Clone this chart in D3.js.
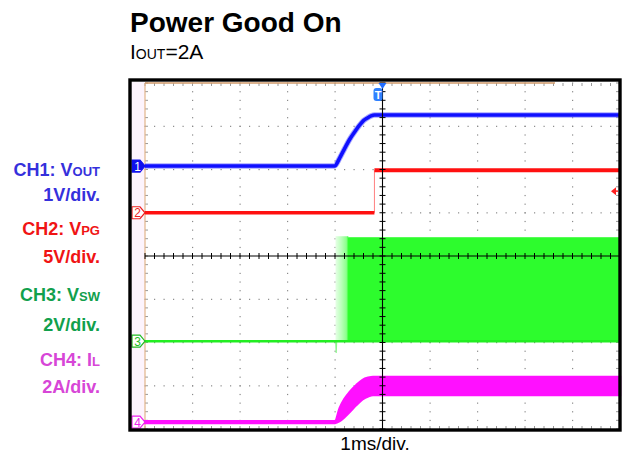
<!DOCTYPE html>
<html><head><meta charset="utf-8">
<script src="https://cdn.jsdelivr.net/npm/d3@7"></script>
<style>
html,body{margin:0;padding:0;background:#fff;}
svg{display:block;font-family:"Liberation Sans",Arial,sans-serif;}
</style></head>
<body><svg id="c" width="630" height="457"></svg>
<script>
// ---- data (time in ms, 1 ms/div; values in channel units) ----
const timeDomain = [-5, 5];
const divDomain = [-4, 4];
const channelNames = ["CH1: V", "CH2: V", "CH3: V", "CH4: I"];
const channelSubs = ["OUT", "PG", "SW", "L"];
const channelScales = ["1V/div.", "5V/div.", "2V/div.", "2A/div."];
const channelUnitsPerDiv = [1, 5, 2, 2];
const channelOffsetDiv = [2.08, 1.0, -1.97, -3.84];

const voutT = [-5, -1.01, -0.90, -0.79, -0.69, -0.58, -0.48, -0.40, -0.32, -0.24, -0.17, 0, 5];
const voutV = [0, 0, 0.19, 0.42, 0.62, 0.80, 0.95, 1.05, 1.11, 1.16, 1.18, 1.18, 1.18];

const vpgT = [-5, -0.17, 5];
const vpgV = [0, 4.92, 4.92];

const vswLineT = [-5, -0.985, -0.975, -0.965, 5];
const vswLineV = [0, 0, -0.55, 0, 0];
const vswBandT = [-0.99, -0.72, 5];
const vswBandHigh = [4.85, 4.8, 4.8];

const ilT = [-5, -1.0, -0.9, -0.8, -0.69, -0.55, -0.42, -0.3, -0.2, 0, 5];
const ilMean = [0, 0, 0.35, 0.65, 0.93, 1.25, 1.50, 1.62, 1.67, 1.67, 1.67];
const ilRipple = [0.04, 0.04, 0.3, 0.42, 0.46, 0.46, 0.45, 0.43, 0.42, 0.42, 0.42];

const trigLevelV = 2.5; // CH2 trigger level (V)
const titleText = "Power Good On";
const subtitleParts = ["I", "OUT", "=2A"];
const xAxisText = "1ms/div.";

// ---- drawing ----
const svg = d3.select("#c");
const G = {l:145, r:620, t:83, b:429};
const x = d3.scaleLinear().domain(timeDomain).range([G.l, G.r]);
const yd = d3.scaleLinear().domain(divDomain).range([G.b, G.t]);
const yCh = (ch, v) => yd(channelOffsetDiv[ch] + v / channelUnitsPerDiv[ch]);

const traceColors = ["#1010ff", "#ff1010", "#33ff33", "#ff10ff"];
const labelColors = ["#3530dc", "#f01414", "#11a04c", "#d746d7"];

// title
svg.append("text").attr("x", 130).attr("y", 32).attr("font-size", 28).attr("font-weight", "bold")
  .attr("fill", "#000").text(titleText);
const st = svg.append("text").attr("x", 130).attr("y", 59).attr("font-size", 21).attr("fill", "#000");
st.append("tspan").text(subtitleParts[0]);
st.append("tspan").attr("font-size", 14).text(subtitleParts[1]);
st.append("tspan").text(subtitleParts[2]);

// left pale strip
svg.append("rect").attr("x", 131).attr("y", 82).attr("width", G.l - 131).attr("height", G.b - 82).attr("fill", "#fdf4fd");

// grid dots
const majX = d3.range(-4, 5).filter(d => d !== 0);
const majY = d3.range(-3, 4).filter(d => d !== 0);
const minX = d3.range(-5, 5.001, 0.2);
const minY = d3.range(-4, 4.001, 0.2);
const gGrid = svg.append("g");
majX.forEach(t => {
  gGrid.selectAll(null).data(minY).enter().append("rect")
    .attr("x", x(t) - 0.5).attr("y", d => yd(d) - 0.5).attr("width", 1.2).attr("height", 1.2).attr("fill", "#8a8a8a");
});
majY.forEach(dv => {
  gGrid.selectAll(null).data(minX).enter().append("rect")
    .attr("x", d => x(d) - 0.5).attr("y", yd(dv) - 0.5).attr("width", 1.2).attr("height", 1.2).attr("fill", "#8a8a8a");
});
// edge ticks
gGrid.selectAll(null).data(minX).enter().append("line")
  .attr("x1", d => x(d)).attr("x2", d => x(d)).attr("y1", G.t).attr("y2", G.t + 3).attr("stroke", "#999").attr("stroke-width", 1);
gGrid.selectAll(null).data(minX).enter().append("line")
  .attr("x1", d => x(d)).attr("x2", d => x(d)).attr("y1", G.b - 3).attr("y2", G.b).attr("stroke", "#999").attr("stroke-width", 1);
gGrid.selectAll(null).data(minY).enter().append("line")
  .attr("x1", G.l).attr("x2", G.l + 3).attr("y1", d => yd(d)).attr("y2", d => yd(d)).attr("stroke", "#999").attr("stroke-width", 1);
gGrid.selectAll(null).data(minY).enter().append("line")
  .attr("x1", G.r - 4).attr("x2", G.r).attr("y1", d => yd(d)).attr("y2", d => yd(d)).attr("stroke", "#999").attr("stroke-width", 1);

// edges (tan)
svg.append("line").attr("x1", G.l).attr("x2", G.l).attr("y1", G.t).attr("y2", G.b).attr("stroke", "#e2b48a").attr("stroke-width", 1.2);
svg.append("line").attr("x1", G.l).attr("x2", 555).attr("y1", G.t).attr("y2", G.t).attr("stroke", "#d09a6a").attr("stroke-width", 1.4);

// ---- traces ----
// CH3 switching band
const gradId = "swfade";
const grad = svg.append("defs").append("linearGradient").attr("id", gradId)
  .attr("gradientUnits", "userSpaceOnUse").attr("x1", x(vswBandT[0])).attr("x2", x(vswBandT[1])).attr("y1", 0).attr("y2", 0);
grad.append("stop").attr("offset", 0).attr("stop-color", "#e6ffe6");
grad.append("stop").attr("offset", 0.5).attr("stop-color", "#b6ffb6");
grad.append("stop").attr("offset", 0.85).attr("stop-color", "#8cff8c");
grad.append("stop").attr("offset", 1).attr("stop-color", "#33ff33");
const bandData = vswBandT.map((t, i) => ({t, hi: vswBandHigh[i]}));
svg.append("path").datum(bandData)
  .attr("d", d3.area().curve(d3.curveStepAfter).x(d => x(d.t)).y0(yCh(2, 0)).y1(d => yCh(2, d.hi)))
  .attr("fill", `url(#${gradId})`);
svg.append("rect").attr("x", x(vswBandT[1])).attr("y", yCh(2, vswBandHigh[1]))
  .attr("width", x(timeDomain[1]) - x(vswBandT[1])).attr("height", yCh(2, 0) - yCh(2, vswBandHigh[1]))
  .attr("fill", "#2dfc2d");
svg.append("path").datum(vswLineT.map((t, i) => ({t, v: vswLineV[i]})))
  .attr("d", d3.line().x(d => x(d.t)).y(d => yCh(2, d.v)))
  .attr("fill", "none").attr("stroke", "#8cf58c").attr("stroke-width", 1.2);
svg.append("path").datum([{t: timeDomain[0]}, {t: timeDomain[1]}])
  .attr("d", d3.line().x(d => x(d.t)).y(yCh(2, 0)))
  .attr("fill", "none").attr("stroke", "#22ee22").attr("stroke-width", 2.6);

// CH4 inductor current band
const ilData = ilT.map((t, i) => ({t, m: ilMean[i], r: ilRipple[i]}));
svg.append("path").datum(ilData)
  .attr("d", d3.area().curve(d3.curveMonotoneX).x(d => x(d.t)).y0(d => yCh(3, d.m - d.r)).y1(d => yCh(3, d.m + d.r)))
  .attr("fill", traceColors[3]).attr("stroke", traceColors[3]).attr("stroke-width", 2.4);

// CH2 PG
const pgData = vpgT.map((t, i) => ({t, v: vpgV[i]}));
svg.append("line").attr("x1", x(vpgT[1])).attr("x2", x(vpgT[1])).attr("y1", yCh(1, 0)).attr("y2", yCh(1, vpgV[1]))
  .attr("stroke", "#ff8080").attr("stroke-width", 1);
svg.append("path").datum(pgData.slice(0, 2)).attr("d", d3.line().x(d => x(d.t)).y(yCh(1, 0)))
  .attr("fill", "none").attr("stroke", traceColors[1]).attr("stroke-width", 3.6);
svg.append("path").datum(pgData.slice(1)).attr("d", d3.line().x(d => x(d.t)).y(d => yCh(1, d.v)))
  .attr("fill", "none").attr("stroke", traceColors[1]).attr("stroke-width", 4);

// CH1 Vout
const voData = voutT.map((t, i) => ({t, v: voutV[i]}));
svg.append("path").datum(voData)
  .attr("d", d3.line().curve(d3.curveMonotoneX).x(d => x(d.t)).y(d => yCh(0, d.v)))
  .attr("fill", "none").attr("stroke", "#6b6bff").attr("stroke-width", 5.5).attr("stroke-opacity", 0.6);
svg.append("path").datum(voData)
  .attr("d", d3.line().curve(d3.curveMonotoneX).x(d => x(d.t)).y(d => yCh(0, d.v)))
  .attr("fill", "none").attr("stroke", traceColors[0]).attr("stroke-width", 3.6);

// center axes with ticks
const gAx = svg.append("g");
gAx.append("line").attr("x1", x(0)).attr("x2", x(0)).attr("y1", G.t).attr("y2", G.b).attr("stroke", "#000").attr("stroke-width", 1.1);
gAx.append("line").attr("x1", G.l).attr("x2", G.r).attr("y1", yd(0)).attr("y2", yd(0)).attr("stroke", "#000").attr("stroke-width", 1.1);
gAx.selectAll(null).data(minX).enter().append("line")
  .attr("x1", d => x(d)).attr("x2", d => x(d)).attr("y1", yd(0) - 3).attr("y2", yd(0) + 3).attr("stroke", "#000").attr("stroke-width", 1);
gAx.selectAll(null).data(minY).enter().append("line")
  .attr("x1", x(0) - 3).attr("x2", x(0) + 3).attr("y1", d => yd(d)).attr("y2", d => yd(d)).attr("stroke", "#000").attr("stroke-width", 1);

// trigger markers
svg.append("path").attr("d", `M${x(0) - 4},${G.t} L${x(0) + 4},${G.t} L${x(0)},${G.t + 6} Z`).attr("fill", "#1f6cff");
svg.append("rect").attr("x", x(0) - 9).attr("y", 88).attr("width", 9).attr("height", 13).attr("rx", 3).attr("fill", "#2f80ff");
svg.append("text").attr("x", x(0) - 4.5).attr("y", 99).attr("text-anchor", "middle").attr("font-size", 11).attr("font-weight", "bold").attr("fill", "#fff").text("T");
const ty = yCh(1, trigLevelV);
svg.append("path").attr("d", `M${G.r - 9},${ty} L${G.r - 4},${ty - 4} L${G.r - 4},${ty + 4} Z`).attr("fill", "#ff2020");
svg.append("line").attr("x1", G.r - 5).attr("x2", G.r - 2).attr("y1", ty).attr("y2", ty).attr("stroke", "#ff2020").attr("stroke-width", 1.5);

// channel ground markers
const markerColors = ["#1010ee", "#ee2020", "#22bb22", "#ee22ee"];
channelOffsetDiv.forEach((o, i) => {
  const yy = yd(o);
  const p = `M132,${yy - 6} L140,${yy - 6} L145,${yy} L140,${yy + 6} L132,${yy + 6} Z`;
  svg.append("path").attr("d", p).attr("fill", i === 0 ? markerColors[0] : "#fff")
    .attr("stroke", markerColors[i]).attr("stroke-width", 1.2);
  svg.append("text").attr("x", 137.5).attr("y", yy + 4.5).attr("text-anchor", "middle").attr("font-size", 12)
    .attr("fill", i === 0 ? "#fff" : markerColors[i]).text(String(i + 1));
});

// frame
svg.append("rect").attr("x", 130).attr("y", 80).attr("width", 490).attr("height", 350)
  .attr("fill", "none").attr("stroke", "#000").attr("stroke-width", 3.4);

// left labels
const nameBase = [176, 235, 301, 366];
const scaleBase = [201, 263, 331, 393];
channelNames.forEach((n, i) => {
  const t = svg.append("text").attr("x", 100).attr("y", nameBase[i]).attr("text-anchor", "end")
    .attr("font-size", 18).attr("font-weight", "bold").attr("fill", labelColors[i]);
  t.append("tspan").text(n);
  t.append("tspan").attr("font-size", 13).text(channelSubs[i]);
  svg.append("text").attr("x", 100).attr("y", scaleBase[i]).attr("text-anchor", "end")
    .attr("font-size", 18).attr("font-weight", "bold").attr("fill", labelColors[i]).text(channelScales[i]);
});

// x axis caption
svg.append("text").attr("x", 375).attr("y", 450).attr("text-anchor", "middle").attr("font-size", 19).attr("fill", "#000").text(xAxisText);
</script></body></html>
